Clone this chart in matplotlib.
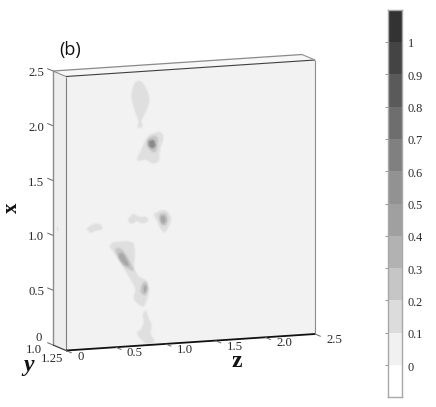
import numpy as np
import matplotlib
matplotlib.use("Agg")
import matplotlib.pyplot as plt
from matplotlib.transforms import Affine2D, ScaledTranslation

# ---- values ----
x_ticks = [0, 0.5, 1.0, 1.5, 2.0, 2.5]
x_tick_labels = ["0", "0.5", "1.0", "1.5", "2.0", "2.5"]
z_ticks = [0, 0.5, 1.0, 1.5, 2.0, 2.5]
z_tick_labels = ["0", "0.5", "1.0", "1.5", "2.0", "2.5"]
y_ticks = [1.0, 1.25]
y_tick_labels = ["1.0", "1.25"]

cbar_ticks = [0, 0.1, 0.2, 0.3, 0.4, 0.5, 0.6, 0.7, 0.8, 0.9, 1.0]
cbar_labels = ["0", "0.1", "0.2", "0.3", "0.4", "0.5", "0.6", "0.7", "0.8", "0.9", "1"]
cbar_edges = [-0.099, 0, 0.1, 0.2, 0.3, 0.4, 0.5, 0.6, 0.7, 0.8, 0.9, 1.0, 1.099]
cbar_grays = ["#ffffff", "#f1f1f1", "#dcdcdc", "#c6c6c6", "#b2b2b2", "#a0a0a0",
              "#929292", "#808080", "#6e6e6e", "#5a5a5a", "#444444", "#333333"]

# Contour regions as (z, x) outlines, per contour band
band_1 = [
    [(.69, 2.40), (.74, 2.415), (.79, 2.366), (.84, 2.243), (.807, 2.153), (.767, 2.079),
     (.747, 2.05), (.767, 2.0), (.723, 1.99), (.735, 2.05), (.69, 2.16), (.657, 2.284)],
    [(.823, 1.91), (.94, 1.94), (.98, 1.894), (.933, 1.766), (.933, 1.675), (.873, 1.655),
     (.807, 1.699), (.707, 1.689), (.757, 1.777)],
    [(.88, 1.188), (.957, 1.22), (1.013, 1.21), (1.057, 1.138), (1.023, 1.064), (.99, 1.015),
     (.94, 1.069), (.923, 1.131)],
    [(.623, 1.149), (.673, 1.207), (.723, 1.173), (.807, 1.168), (.823, 1.137), (.773, 1.115),
     (.707, 1.144), (.657, 1.117)],
    [(.213, 1.098), (.273, 1.134), (.34, 1.13), (.367, 1.089), (.29, 1.078), (.247, 1.06)],
    [(.42, .955), (.673, .958), (.69, .842), (.673, .722), (.723, .627), (.80, .593),
     (.833, .515), (.813, .425), (.78, .352), (.723, .385), (.68, .434), (.707, .523),
     (.64, .633), (.54, .79)],
    [(.80, .32), (.823, .244), (.857, .18), (.84, .106), (.89, .026), (.807, .011),
     (.707, .114), (.757, .141), (.79, .215), (.773, .276)],
]
band_2 = [
    [(.823, 1.88), (.89, 1.906), (.923, 1.874), (.907, 1.768), (.873, 1.755), (.813, 1.82)],
    [(.94, 1.185), (1.0, 1.19), (1.02, 1.134), (1.0, 1.081), (.96, 1.092), (.94, 1.139)],
    [(.49, .90), (.557, .895), (.623, .80), (.68, .69), (.64, .70), (.557, .759)],
    [(.767, .565), (.807, .577), (.82, .50), (.79, .457), (.747, .49)],
]
band_3 = [
    [(.83, 1.864), (.88, 1.87), (.90, 1.815), (.87, 1.789), (.83, 1.818)],
    [(.955, 1.166), (.99, 1.164), (1.0, 1.117), (.97, 1.101), (.955, 1.129)],
    [(.533, .852), (.573, .849), (.633, .74), (.60, .741), (.54, .806)],
    [(.785, .54), (.805, .54), (.805, .50), (.785, .48)],
]
band_4 = [
    [(.84, 1.855), (.88, 1.86), (.89, 1.815), (.865, 1.80), (.84, 1.82)],
]
band_grays = ["#dfdfdf", "#c6c6c6", "#a8a8a8", "#8a8a8a"]
bands = [band_1, band_2, band_3, band_4]

# Faint smudge on the left face, as (z, x, y)
left_face_spot = [(0, 1.11, 1.09), (0, 1.07, 1.11), (0, 1.05, 1.09), (0, 1.08, 1.07)]

Z_MAX, X_MAX, Y_BACK, Y_FRONT = 2.5, 2.5, 1.0, 1.25

# ---- projection of the box onto the page (pixels) ----
def project(z, x, y=Y_FRONT):
    return (66 + 99.6 * z + (y - Y_FRONT) * 52,
            350.5 - 6.6 * z - 109.6 * x + (y - Y_FRONT) * 22)

def rounded(outline, passes=1):
    """Corner cutting, so the read outlines look like contour lines."""
    pts = np.asarray(outline, float)
    for _ in range(passes):
        nxt = np.roll(pts, -1, axis=0)
        pts = np.column_stack([0.8 * pts + 0.2 * nxt, 0.2 * pts + 0.8 * nxt]).reshape(-1, 2)
    return pts

fig = plt.figure(figsize=(4.36, 4.07), dpi=100, facecolor="white")
ax = fig.add_axes([0, 0, 1, 1])
ax.set_xlim(0, 436)
ax.set_ylim(407, 0)
ax.axis("off")

serif = "Liberation Serif"
tick_c = "#2a2a2a"

def poly(pts, **kw):
    xs, ys = zip(*[project(*p) for p in pts])
    ax.fill(xs, ys, **kw)

# faces
poly([(0, 0, Y_BACK), (0, X_MAX, Y_BACK), (0, X_MAX, Y_FRONT), (0, 0, Y_FRONT)],
     fc="#eeeeee", ec="none", zorder=1)
poly([(0, X_MAX, Y_BACK), (Z_MAX, X_MAX, Y_BACK), (Z_MAX, X_MAX, Y_FRONT), (0, X_MAX, Y_FRONT)],
     fc="#f7f7f7", ec="none", zorder=1)
poly([(0, 0), (Z_MAX, 0), (Z_MAX, X_MAX), (0, X_MAX)], fc="#f2f2f2", ec="none", zorder=1)
poly(left_face_spot, fc="#e0e0e0", ec="none", zorder=2)

# contour bands on the front face, edges softened with wide translucent strokes
to_page = Affine2D.from_values(99.6, -6.6, 0, -109.6, 66, 350.5) + ax.transData
for regions, gray in zip(bands, band_grays):
    for outline in regions:
        pts = rounded(outline)
        for lw, alpha in [(2.4, 0.2), (1.2, 0.35)]:
            ax.fill(pts[:, 0], pts[:, 1], fc="none", ec=gray, lw=lw, alpha=alpha,
                    transform=to_page, zorder=2)
        ax.fill(pts[:, 0], pts[:, 1], fc=gray, ec="none", transform=to_page, zorder=2)

def edge(a, b, color, lw, zorder=3):
    pa, pb = project(*a), project(*b)
    ax.plot([pa[0], pb[0]], [pa[1], pb[1]], color=color, lw=lw, zorder=zorder,
            solid_capstyle="butt")

# box edges
edge((0, 0, Y_BACK), (0, X_MAX, Y_BACK), "#8c8c8c", 1.0)
edge((0, 0, Y_FRONT), (0, X_MAX, Y_FRONT), "#808080", 0.8)
edge((Z_MAX, 0, Y_FRONT), (Z_MAX, X_MAX, Y_FRONT), "#8c8c8c", 0.8)
edge((0, X_MAX, Y_FRONT), (Z_MAX, X_MAX, Y_FRONT), "#404040", 0.8)
edge((0, X_MAX, Y_BACK), (Z_MAX, X_MAX, Y_BACK), "#8a8a8a", 0.9)
edge((0, X_MAX, Y_BACK), (0, X_MAX, Y_FRONT), "#808080", 0.7)
edge((Z_MAX, X_MAX, Y_BACK), (Z_MAX, X_MAX, Y_FRONT), "#909090", 0.8)
edge((0, 0, Y_BACK), (0, 0, Y_FRONT), "#404040", 0.9)
edge((0, 0, Y_FRONT), (Z_MAX, 0, Y_FRONT), "#111111", 1.3)

# x axis
for v, lab in zip(x_ticks, x_tick_labels):
    edge((0, v, Y_BACK), (0, v, Y_BACK - 0.11), "#666666", 0.7)
    px, py = project(0, v, Y_BACK)
    ax.text(px - 9 if v else px - 11, py + 2 if v else py - 7, lab, ha="right", va="center",
            family=serif, fontsize=9.2, color=tick_c)

# z axis
for v, lab in zip(z_ticks, z_tick_labels):
    edge((v, 0, Y_FRONT), (v, 0, Y_FRONT + 0.11), "#666666", 0.7)
    px, py = project(v, 0)
    ax.text(px + (15 if v == 0 else 19), py + 6, lab, ha="center", va="center",
            family=serif, fontsize=9.2, color=tick_c)

# y axis
for v, lab, (dx, dy) in zip(y_ticks, y_tick_labels, [(-19, 5), (-14, 9)]):
    px, py = project(0, 0, v)
    ax.text(px + dx, py + dy, lab, ha="center", va="center", family=serif,
            fontsize=9.2, color=tick_c)

# axis titles and panel letter
ax.text(12, 208, "x", rotation=90, ha="center", va="center", family=serif,
        weight="bold", fontsize=15, color="#111111")
ax.text(237, 367, "z", ha="center", va="baseline", family=serif,
        weight="bold", fontsize=17, color="#111111")
ax.text(29, 371, "y", ha="center", va="baseline", family=serif, style="italic",
        weight="bold", fontsize=17, color="#111111")
ax.text(70, 50, "(b)", ha="center", va="center", family="Open Sans",
        fontsize=13, color="#111111")

# colour bar
cax = fig.add_axes([387.5 / 436, 1 - 397 / 407, 14.5 / 436, 387 / 407])
cax.set_facecolor("white")
for lo, hi, gray in zip(cbar_edges[:-1], cbar_edges[1:], cbar_grays):
    cax.axhspan(lo, hi, fc=gray, ec="none")
cax.set_ylim(cbar_edges[0], cbar_edges[-1])
cax.set_xticks([])
cax.set_yticks(cbar_ticks)
cax.set_yticklabels(cbar_labels, family=serif, fontsize=8.8, color=tick_c, va="center")
cax.tick_params(axis="y", left=True, right=False, labelleft=False, labelright=True,
                length=2, width=0.5, color="#666666", pad=2)
shift = ScaledTranslation(0, -2.5 / 100, fig.dpi_scale_trans)
for lab in cax.get_yticklabels():
    lab.set_transform(lab.get_transform() + shift)
for s in cax.spines.values():
    s.set_color("#a8a8a8")
    s.set_linewidth(1.0)

fig.savefig("out.png", dpi=100, facecolor="white")
